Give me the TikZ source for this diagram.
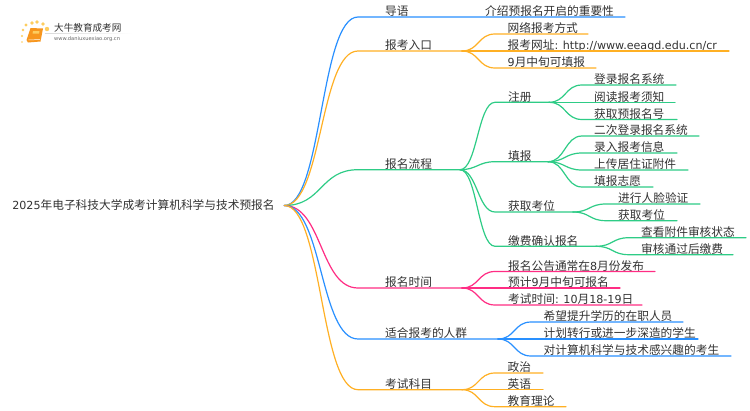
\documentclass[tikz,border=0pt]{standalone}
\usepackage{fontspec}
\setmainfont{Noto Sans CJK SC}
\newfontfamily\lat[Scale=0.95]{DejaVu Sans}
\usepackage{xcolor}
\definecolor{mmblue}{RGB}{41,144,255}
\definecolor{mmorange}{RGB}{255,176,36}
\definecolor{mmgreen}{RGB}{46,204,134}
\definecolor{mmpink}{RGB}{255,45,132}
\definecolor{mmtext}{RGB}{51,51,51}
\definecolor{logoorange}{RGB}{247,150,30}
\definecolor{logodot}{RGB}{253,205,95}
\tikzset{
  topic/.style={anchor=west, inner sep=0pt, yshift=5.6pt, text=mmtext, font=\fontsize{11.7}{14}\selectfont},
  branch/.style={line width=1.2pt, line cap=round},
  far/.style={out=0, in=180, distance=38pt},
  near/.style={out=0, in=180, distance=17pt},
}
\begin{document}
\begin{tikzpicture}[x=1pt,y=-1pt]
\fill[white] (0,0) rectangle (750,410);
\useasboundingbox (0,0) rectangle (750,410);

% Logo
\foreach \x/\y/\r in {26/25/1.6,32/23/1.9,37/22/1.9,43/24/1.9,47/29/2.2,23/30/1.3,22/36/1.1,22/42/0.9} {
    \fill[logodot] (\x,\y) circle (\r);
}
\fill[logoorange] (30.5,28) -- (43,28.5) -- (40.5,41.5) -- (28,42.5) -- (26.5,40) -- cycle;
\fill[logodot] (33,31) -- (39.5,31) -- (39,33.5) -- (32.5,33.5) -- cycle;
\draw[white, line width=0.5pt] (28.5,40) -- (40,39.5);
\shade[left color=black!15, right color=white] (45,33) rectangle (133,33.6);
\node[anchor=west, inner sep=0pt, text=mmtext, font=\fontsize{9.6}{11}\selectfont] (logoname) at (54,27.5) {大牛教育成考网};
\node[anchor=west, inner sep=0pt, text=black!60, font=\lat\fontsize{5.4}{6}\selectfont] (logourl) at (54,39) {www.daniuxuexiao.org.cn};

% Root
\node[text=mmtext, inner ysep=0pt, inner xsep=9.5pt, font=\fontsize{11.7}{14}\selectfont] (root) at (143.5,205.5) {{\lat 2025}年电子科技大学成考计算机科学与技术预报名};

% First level
\foreach \nm/\col/\y/\xe/\txt in {intro/mmblue/17/625/导语,
    entry/mmorange/51/462/报考入口,
    flow/mmgreen/169.7/460/报名流程,
    time/mmpink/288/462/报名时间,
    crowd/mmblue/339/498/适合报考的人群,
    subject/mmorange/389.7/462/考试科目} {
    \node[topic] (\nm) at (385,\y) {\txt};
    \coordinate (\nm s) at (358,\y);
    \coordinate (\nm e) at (\xe,\y);
    \draw[branch, \col] (root.east) to[far] (\nm s) -- (\nm e);
}

% Intro
\node[topic] (introtext) at (485,17) {介绍预报名开启的重要性};

% Entry
\foreach \nm/\y/\xs/\xe/\txt in {entrya/34/495/588/网络报考方式,
    entryb/51/495/729/{报考网址{\lat: http://www.eeagd.edu.cn/cr}},
    entryc/68/495/596/{{\lat 9}月中旬可填报}} {
    \node[topic] (\nm) at (507.5,\y) {\txt};
    \coordinate (\nm s) at (\xs,\y);
    \coordinate (\nm e) at (\xe,\y);
    \draw[branch, mmorange] (entrye) to[near] (\nm s) -- (\nm e);
}

% Flow
\foreach \nm/\y/\xe/\txt in {reg/102.3/549/注册, fill/161.7/548/填报, seat/212/573/获取考位, pay/246.3/596/缴费确认报名} {
    \node[topic] (\nm) at (508,\y) {\txt};
    \coordinate (\nm s) at (495,\y);
    \coordinate (\nm e) at (\xe,\y);
    \draw[branch, mmgreen] (flowe) to[near] (\nm s) -- (\nm e);
}
\foreach \nm/\y/\xe/\txt in {rega/85/676/登录报名系统, regb/102.3/675/阅读报考须知, regc/119.5/677/获取预报名号} {
    \node[topic] (\nm) at (594,\y) {\txt};
    \coordinate (\nm s) at (582,\y);
    \coordinate (\nm e) at (\xe,\y);
    \draw[branch, mmgreen] (rege) to[near] (\nm s) -- (\nm e);
}
\foreach \nm/\y/\xe/\txt in {filla/136/699/二次登录报名系统, fillb/153/677/录入报考信息, fillc/170/688/上传居住证附件, filld/187/653/填报志愿} {
    \node[topic] (\nm) at (594,\y) {\txt};
    \coordinate (\nm s) at (582,\y);
    \coordinate (\nm e) at (\xe,\y);
    \draw[branch, mmgreen] (fille) to[near] (\nm s) -- (\nm e);
}
\foreach \nm/\y/\xe/\txt in {seata/204/700/进行人脸验证, seatb/220.7/677/获取考位} {
    \node[topic] (\nm) at (618,\y) {\txt};
    \coordinate (\nm s) at (606,\y);
    \coordinate (\nm e) at (\xe,\y);
    \draw[branch, mmgreen] (seate) to[near] (\nm s) -- (\nm e);
}
\foreach \nm/\y/\xe/\txt in {paya/237.7/746/查看附件审核状态, payb/254.7/733/审核通过后缴费} {
    \node[topic] (\nm) at (641,\y) {\txt};
    \coordinate (\nm s) at (629,\y);
    \coordinate (\nm e) at (\xe,\y);
    \draw[branch, mmgreen] (paye) to[near] (\nm s) -- (\nm e);
}

% Time
\foreach \nm/\y/\xe/\txt in {timea/271.5/655/{报名公告通常在{\lat 8}月份发布},
    timeb/288/620/{预计{\lat 9}月中旬可报名},
    timec/305/642/{考试时间{\lat: 10}月{\lat 18-19}日}} {
    \node[topic] (\nm) at (508,\y) {\txt};
    \coordinate (\nm s) at (495,\y);
    \coordinate (\nm e) at (\xe,\y);
    \draw[branch, mmpink] (timee) to[near] (\nm s) -- (\nm e);
}

% Crowd
\foreach \nm/\y/\xe/\txt in {crowda/322/683/希望提升学历的在职人员, crowdb/339/698/计划转行或进一步深造的学生, crowdc/356/731/对计算机科学与技术感兴趣的考生} {
    \node[topic] (\nm) at (543.5,\y) {\txt};
    \coordinate (\nm s) at (531,\y);
    \coordinate (\nm e) at (\xe,\y);
    \draw[branch, mmblue] (crowde) to[near] (\nm s) -- (\nm e);
}

% Subject
\foreach \nm/\y/\xe/\txt in {subjecta/373/543/政治, subjectb/389.7/543/英语, subjectc/406.7/566/教育理论} {
    \node[topic] (\nm) at (507.5,\y) {\txt};
    \coordinate (\nm s) at (495,\y);
    \coordinate (\nm e) at (\xe,\y);
    \draw[branch, mmorange] (subjecte) to[near] (\nm s) -- (\nm e);
}
\end{tikzpicture}
\end{document}
